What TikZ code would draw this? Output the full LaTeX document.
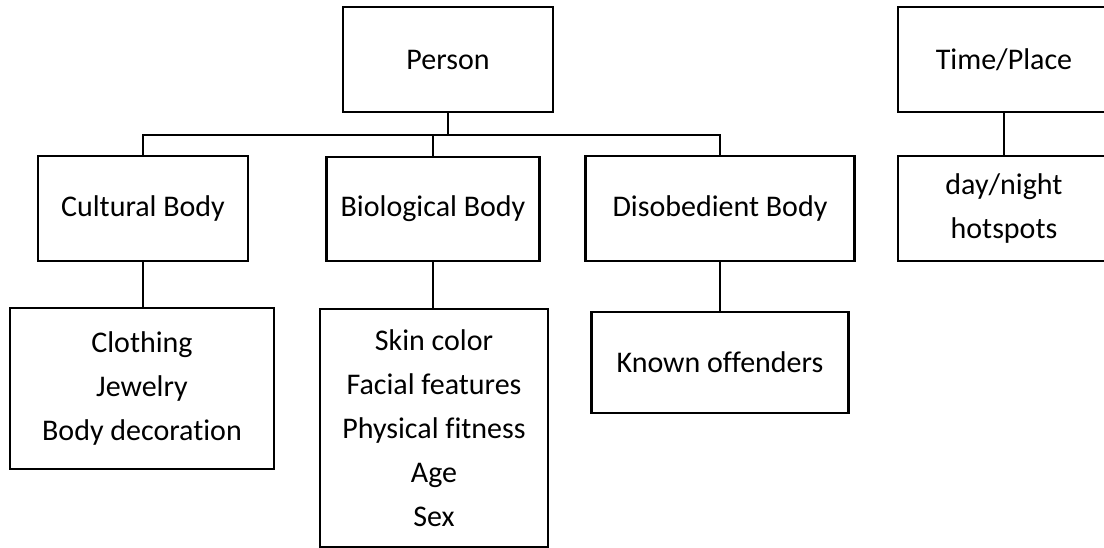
\documentclass[tikz,border=0pt]{standalone}
\usepackage{fontspec}
\setmainfont{Carlito}[Ligatures=NoCommon]
\begin{document}
\begin{tikzpicture}[x=1pt,y=-1pt,
  box/.style={draw=black,line width=2.2pt,inner sep=0pt,align=center,
    font=\fontsize{30}{44}\selectfont},
  conn/.style={draw=black,line width=2.2pt}]
\useasboundingbox (0,0) rectangle (1104,548);
\clip (0,0) rectangle (1104,548);
\fill[white] (0,0) rectangle (1104,548);
% top level
\node[box,minimum width=210pt,minimum height=105pt] (person) at (448,59.5) {Person};
\node[box,minimum width=212pt,minimum height=105pt] (tp) at (1004,59.5) {Time/Place};
% second level
\node[box,minimum width=210pt,minimum height=105pt] (cult) at (143,208.5) {Cultural Body};
\node[box,minimum width=213pt,minimum height=104pt] (bio) at (433,209) {Biological Body};
\node[box,minimum width=269pt,minimum height=105pt] (dis) at (720,208.5) {Disobedient Body};
\node[box,minimum width=212pt,minimum height=105pt] (dn) at (1004,208.5) {day/night\\hotspots};
% third level
\node[box,minimum width=264pt,minimum height=161pt] (cultc) at (142,388.5) {Clothing\\Jewelry\\Body decoration};
\node[box,minimum width=228pt,minimum height=238pt] (bioc) at (434,428) {Skin color\\Facial features\\Physical fitness\\Age\\Sex};
\node[box,minimum width=257pt,minimum height=101pt] (known) at (720,362.5) {Known offenders};
% connectors
\coordinate (bar) at (448,135);
\draw[conn] (person.south) -- (bar);
\draw[conn] (cult.north) |- (bar) -| (dis.north);
\draw[conn] (bio.north) -- (bio.north |- bar);
\draw[conn] (tp.south) -- (dn.north);
\draw[conn] (cult.south) -- (cultc.north -| cult.south);
\draw[conn] (bio.south) -- (bioc.north -| bio.south);
\draw[conn] (dis.south) -- (known.north -| dis.south);
\end{tikzpicture}
\end{document}
